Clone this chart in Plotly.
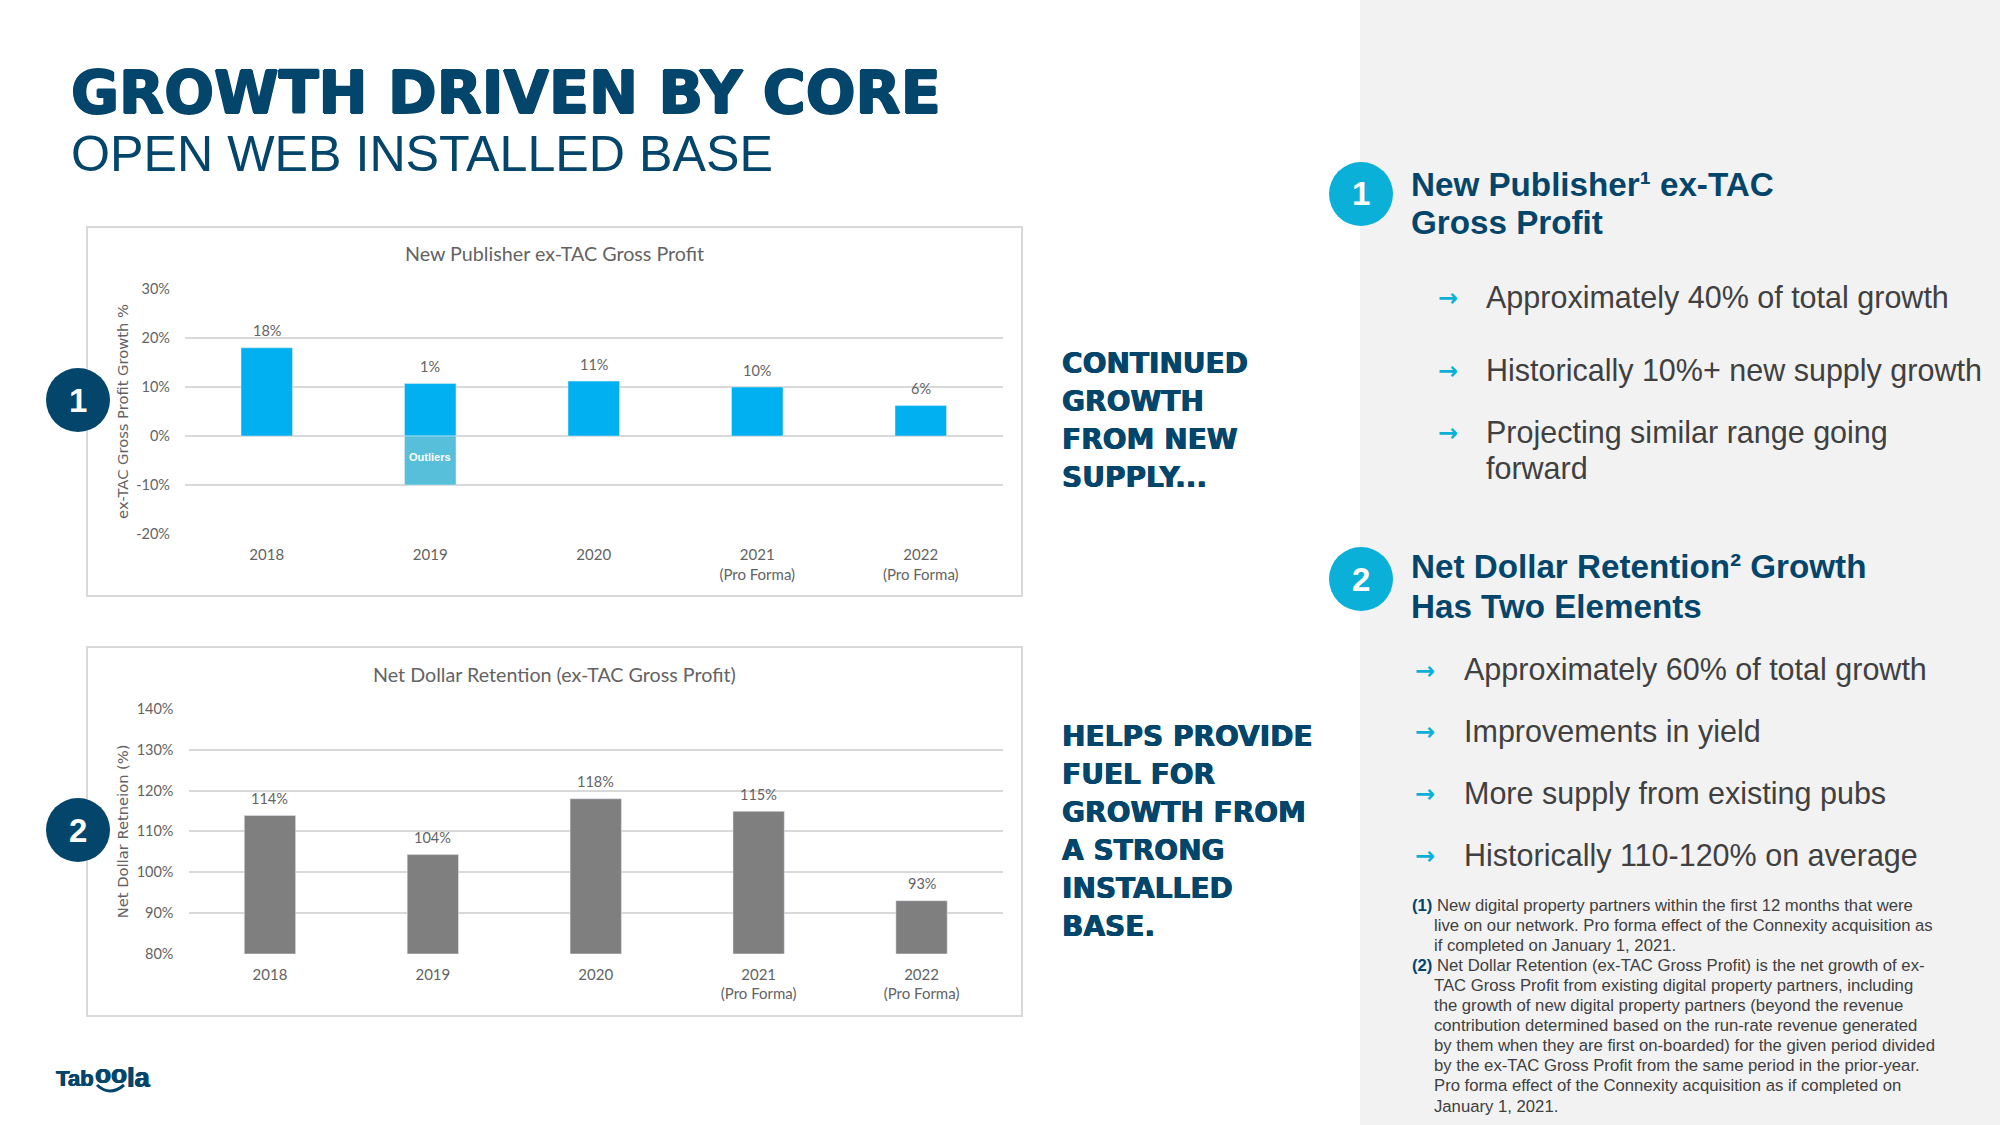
import plotly.graph_objects as go

years = ["2018", "2019", "2020", "2021", "2022"]
year_labels = ["2018", "2019", "2020", "2021<br>(Pro Forma)", "2022<br>(Pro Forma)"]

new_pub_values = [18, 10.7, 11.2, 10, 6.2]
new_pub_outliers = [None, -10, None, None, None]
new_pub_labels = ["18%", "1%", "11%", "10%", "6%"]
new_pub_ticks = [-20, -10, 0, 10, 20, 30]
new_pub_ticktext = ["-20%", "-10%", "0%", "10%", "20%", "30%"]

ndr_values = [113.9, 104.3, 118, 114.9, 93]
ndr_labels = ["114%", "104%", "118%", "115%", "93%"]
ndr_ticks = [80, 90, 100, 110, 120, 130, 140]
ndr_ticktext = ["80%", "90%", "100%", "110%", "120%", "130%", "140%"]

side_text_1 = ["CONTINUED", "GROWTH", "FROM NEW", "SUPPLY..."]
side_text_2 = ["HELPS PROVIDE", "FUEL FOR", "GROWTH FROM", "A STRONG", "INSTALLED", "BASE."]
bullets_1 = ["Approximately 40% of total growth", "Historically 10%+ new supply growth", "Projecting similar range going", "forward"]
bullets_2 = ["Approximately 60% of total growth", "Improvements in yield", "More supply from existing pubs", "Historically 110-120% on average"]
footnotes = [
    "New digital property partners within the first 12 months that were",
    "live on our network. Pro forma effect of the Connexity acquisition as",
    "if completed on January 1, 2021.",
    "Net Dollar Retention (ex-TAC Gross Profit) is the net growth of ex-",
    "TAC Gross Profit from existing digital property partners, including",
    "the growth of new digital property partners (beyond the revenue",
    "contribution determined based on the run-rate revenue generated",
    "by them when they are first on-boarded) for the given period divided",
    "by the ex-TAC Gross Profit from the same period in the prior-year.",
    "Pro forma effect of the Connexity acquisition as if completed on",
    "January 1, 2021.",
]

W, H = 2000, 1125
NAVY = "#04456B"
CYAN = "#0BB0D9"
DARK = "#404040"
GRID = "#D9D9D9"
AXIS_TXT = "#636363"
ARIAL = "Liberation Sans"
CHART_FONT = "Lato"


def px(x):
    return x / W


def py(y):
    return 1 - y / H


anns, shapes = [], []


def text(x, y, s, size, color=DARK, family=ARIAL, anchor="left", shadow=None, angle=0):
    font = dict(size=size, color=color, family=family)
    if shadow:
        font["shadow"] = shadow
    anns.append(dict(xref="paper", yref="paper", x=px(x), y=py(y), text=s, showarrow=False,
                     xanchor=anchor, yanchor="middle", font=font, align=anchor, textangle=angle,
                     borderpad=0))


def rect(x0, y0, x1, y1, fill, line=None, lw=0, layer="below"):
    shapes.append(dict(type="rect", xref="paper", yref="paper", x0=px(x0), x1=px(x1), y0=py(y0), y1=py(y1),
                       fillcolor=fill, line=dict(color=line or fill, width=lw), layer=layer))


def circle(cx, cy, r, fill, label):
    shapes.append(dict(type="circle", xref="paper", yref="paper", x0=px(cx - r), x1=px(cx + r),
                       y0=py(cy + r), y1=py(cy - r), fillcolor=fill, line=dict(width=0), layer="above"))
    text(cx, cy, f"<b>{label}</b>", 33, "white", anchor="center")


# panels
rect(1360, 0, 2000, 1125, "#F2F2F2")
rect(87, 227, 1022, 596, "white", GRID, 2)
rect(87, 647, 1022, 1016, "white", GRID, 2)

fig = go.Figure()
fig.add_trace(go.Bar(x=years, y=new_pub_values, marker_color="#00B0F0", width=0.315, xaxis="x", yaxis="y",
                     showlegend=False))
fig.add_trace(go.Bar(x=years, y=new_pub_outliers, marker_color="#57BFDA", width=0.315, xaxis="x", yaxis="y",
                     showlegend=False))
fig.add_trace(go.Bar(x=years, y=ndr_values, marker_color="#7F7F7F", width=0.315, xaxis="x2", yaxis="y2",
                     showlegend=False))

anns.append(dict(xref="x", yref="y", x=1, y=new_pub_outliers[1] / 2, text="<b>Outliers</b>", showarrow=False,
                 yshift=4, yanchor="middle", font=dict(size=11, color="white", family=ARIAL)))

for xa, ya, vals, labs in (("x", "y", new_pub_values, new_pub_labels), ("x2", "y2", ndr_values, ndr_labels)):
    for i, (v, lab) in enumerate(zip(vals, labs)):
        anns.append(dict(xref=xa, yref=ya, x=i, y=v, text=lab, showarrow=False, yshift=17, yanchor="middle",
                         font=dict(size=14.5, color=AXIS_TXT, family=CHART_FONT)))

x_common = dict(type="category", categoryorder="array", categoryarray=years, tickmode="array", tickvals=years,
                ticktext=year_labels, showgrid=False, zeroline=False, showline=False, ticks="",
                range=[-0.5, 4.5], ticklabelstandoff=10, tickfont=dict(size=15, color=AXIS_TXT, family=CHART_FONT),
                automargin=False, fixedrange=True)
y_common = dict(showgrid=True, gridcolor=GRID, gridwidth=1.5, zeroline=False, showline=False, ticks="",
                ticklabelstandoff=14, tickfont=dict(size=14.5, color=AXIS_TXT, family=CHART_FONT), automargin=False,
                tickmode="array", fixedrange=True)

text(554.5, 254, "New Publisher ex-TAC Gross Profit", 19.7, AXIS_TXT, CHART_FONT, "center")
text(554, 674, "Net Dollar Retention (ex-TAC Gross Profit)", 19.7, AXIS_TXT, CHART_FONT, "center")

# headings
text(70, 93, "<b>GROWTH DRIVEN BY CORE</b>", 58.6, NAVY, "DejaVu Sans",
     shadow=f"1px 0 0 {NAVY}, -1px 0 0 {NAVY}, 0 0.6px 0 {NAVY}, 0 -0.6px 0 {NAVY}")
text(70, 153.5, "OPEN WEB INSTALLED BASE", 50.2, NAVY)

SIDE_SHADOW = f"0.6px 0 0 {NAVY}, -0.4px 0 0 {NAVY}"
for i, s in enumerate(side_text_1):
    text(1061, 363.5 + i * 38, f"<b>{s}</b>", 28, NAVY, "DejaVu Sans", shadow=SIDE_SHADOW)
for i, s in enumerate(side_text_2):
    text(1061, 736.5 + i * 38, f"<b>{s}</b>", 28, NAVY, "DejaVu Sans", shadow=SIDE_SHADOW)

# right column
circle(1361, 194, 32, CYAN, "1")
circle(1361, 579, 32, CYAN, "2")
circle(78, 400, 32, NAVY, "1")
circle(78, 830, 32, NAVY, "2")

text(1410, 184, "<b>New Publisher¹ ex-TAC</b>", 33.2, NAVY)
text(1410, 222, "<b>Gross Profit</b>", 33.2, NAVY)
text(1410, 566, "<b>Net Dollar Retention² Growth</b>", 33.2, NAVY)
text(1410, 606, "<b>Has Two Elements</b>", 33.2, NAVY)

for s, y in zip(bullets_1, (297, 370, 432, 468)):
    text(1485, y, s, 30.5, DARK)
for y in (298, 371, 433):
    text(1437, y, "<b>→</b>", 24, CYAN, "DejaVu Sans")
for s, y in zip(bullets_2, (670, 731, 793, 855)):
    text(1462.5, y, s, 30.5, DARK)
for y in (671, 732, 794, 856):
    text(1414, y, "<b>→</b>", 24, CYAN, "DejaVu Sans")

for i, s in enumerate(footnotes):
    y = 905.5 + i * 20.05
    if i == 0:
        text(1410.5, y, f'<span style="color:{NAVY}"><b>(1)</b></span> {s}', 16.7, DARK)
    elif i == 3:
        text(1410.5, y, f'<span style="color:{NAVY}"><b>(2)</b></span> {s}', 16.7, DARK)
    else:
        text(1433, y, s, 16.7, DARK)

# logo
LOGO_SHADOW = f"0.8px 0 0 {NAVY}, -0.4px 0 0 {NAVY}"
text(55, 1078, "<b>Tab</b>", 22, NAVY, shadow=LOGO_SHADOW)
text(94, 1074, "<b>oo</b>", 26, NAVY, shadow=LOGO_SHADOW)
text(126, 1078, "<b>la</b>", 27, NAVY, shadow=LOGO_SHADOW)
shapes.append(dict(type="path", xref="paper", yref="paper", layer="above",
                   path=f"M {px(97)} {py(1085)} Q {px(110)} {py(1097)} {px(124)} {py(1085)}",
                   line=dict(color=NAVY, width=3)))

fig.update_layout(
    width=W, height=H, margin=dict(l=0, r=0, t=0, b=0, pad=0, autoexpand=False),
    paper_bgcolor="white", plot_bgcolor="rgba(0,0,0,0)", barmode="relative", showlegend=False,
    annotations=anns, shapes=shapes, hovermode=False,
    xaxis=dict(domain=[px(185), px(1002.5)], anchor="y", **x_common),
    yaxis=dict(domain=[py(534), py(289)], anchor="x", range=[-20, 30], tickvals=new_pub_ticks,
               ticktext=new_pub_ticktext,
               title=dict(text="ex-TAC Gross Profit Growth %", standoff=4,
                          font=dict(size=14.7, color=AXIS_TXT, family="DejaVu Sans")), **y_common),
    xaxis2=dict(domain=[px(188.5), px(1003)], anchor="y2", **x_common),
    yaxis2=dict(domain=[py(953.7), py(709)], anchor="x2", range=[80, 140], tickvals=ndr_ticks,
                ticktext=ndr_ticktext,
                title=dict(text="Net Dollar Retneion (%)", standoff=4,
                           font=dict(size=14.7, color=AXIS_TXT, family="DejaVu Sans")), **y_common),
)

fig.write_html("out.html", config=dict(displayModeBar=False),
               post_script="document.body.style.margin='0';")
